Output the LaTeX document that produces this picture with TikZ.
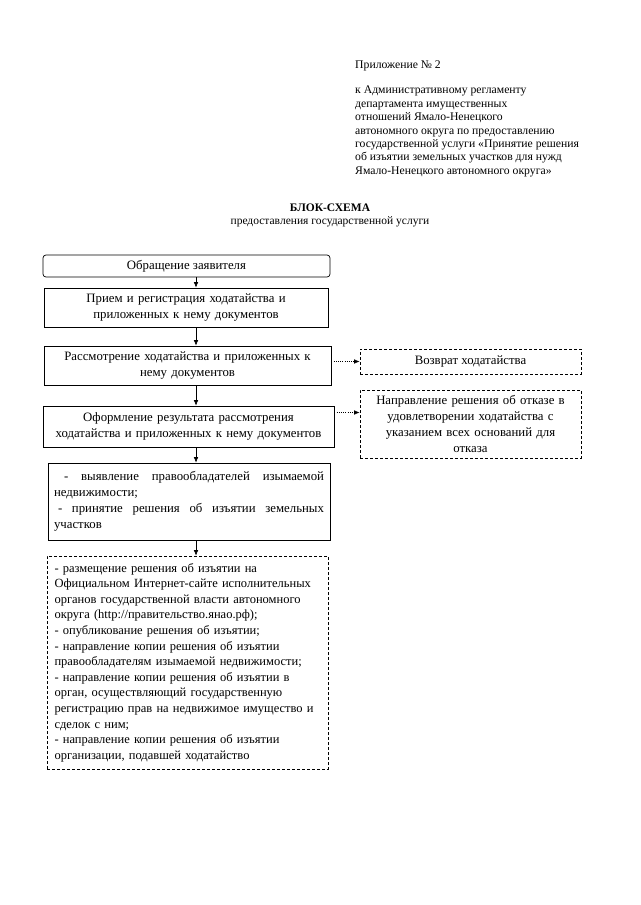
\documentclass[tikz,border=0pt]{standalone}
\usepackage{fontspec}
\setmainfont{Liberation Serif}
\usetikzlibrary{arrows.meta,positioning,calc}
\newcommand{\boxfont}{\fontsize{12.8}{16}\selectfont}
\newcommand{\listfont}{\fontsize{12.5}{15.6}\selectfont}
\newcommand{\notefont}{\fontsize{11.7}{13.4}\selectfont}
\newcommand{\headfont}{\fontsize{11.5}{14}\selectfont}
\tikzset{
  process/.style={draw=black, line width=0.7pt, align=center,
    font=\boxfont, inner sep=0pt},
  startbox/.style={process, rounded corners=3pt},
  dashbox/.style={draw=black, line width=0.7pt, dash pattern=on 3pt off 2pt,
    font=\boxfont, inner sep=0pt},
  arrow/.style={-{Latex[length=5.5pt,width=4.5pt]}, line width=0.6pt},
  dotarrow/.style={-{Latex[length=5.5pt,width=4.5pt]}, line width=0.6pt,
    dash pattern=on 1pt off 1.2pt}
}

\begin{document}
\begin{tikzpicture}[x=1pt, y=-1pt]
  \useasboundingbox (0,0) rectangle (640,905);
  % heading
  \node[anchor=north west, font=\notefont, inner sep=0pt] (annex) at (355,61) {Приложение № 2};
  \node[anchor=north west, font=\notefont, align=left, inner sep=0pt] (regl) at (355,86)
    {к Административному регламенту\\
     департамента имущественных\\
     отношений Ямало-Ненецкого\\
     автономного округа по предоставлению\\
     государственной услуги «Принятие решения\\
     об изъятии земельных участков для нужд\\
     Ямало-Ненецкого автономного округа»};
  \node[font=\headfont\bfseries, inner sep=0pt] (title) at (330,208) {БЛОК-СХЕМА};
  \node[font=\headfont, inner sep=0pt, below=4pt of title] (subtitle) {предоставления государственной услуги};

  % main column
  \node[startbox, minimum width=287, minimum height=22] (apply) at (186.5,266) {Обращение заявителя};
  \node[process, text width=275, minimum width=284, minimum height=39] (receive) at (186,307.5)
    {Прием и регистрация ходатайства и\\приложенных к нему документов};
  \node[process, text width=282, minimum width=287, minimum height=39] (review) at (187.5,365.5)
    {Рассмотрение ходатайства и приложенных к\\нему документов};
  \node[process, text width=286, minimum width=291, minimum height=41] (result) at (188.5,426.5)
    {Оформление результата рассмотрения\\ходатайства и приложенных к нему документов};
  \node[process, align=justify, text width=270, minimum width=282, minimum height=77] (decide) at (189,501.5)
    {\hspace*{10pt}- выявление правообладателей изымаемой\linebreak недвижимости;\par
     \hspace*{4pt}- принятие решения об изъятии земельных\linebreak участков};
  \node[dashbox, font=\listfont, align=left, text width=266, minimum width=281, minimum height=213] (publish) at (187.5,662.5)
    {- размещение решения об изъятии на\\
     Официальном Интернет-сайте исполнительных\\
     органов государственной власти автономного\\
     округа (http://правительство.янао.рф);\\
     - опубликование решения об изъятии;\\
     - направление копии решения об изъятии\\
     правообладателям изымаемой недвижимости;\\
     - направление копии решения об изъятии в\\
     орган, осуществляющий государственную\\
     регистрацию прав на недвижимое имущество и\\
     сделок с ним;\\
     - направление копии решения об изъятии\\
     организации, подавшей ходатайство};

  % side boxes
  \node[dashbox, align=center, minimum width=221, minimum height=25] (return) at (470.5,361.5)
    {Возврат ходатайства};
  \node[dashbox, align=center, text width=212, minimum width=221, minimum height=68] (refuse) at (470.5,424)
    {Направление решения об отказе в\\удовлетворении ходатайства с\\указанием всех оснований для\\отказа};

  % connectors
  \coordinate (ax) at (196,0);
  \draw[arrow] (apply.south -| ax) -- (receive.north -| ax);
  \draw[arrow] (receive.south -| ax) -- (review.north -| ax);
  \draw[arrow] (review.south -| ax) -- (result.north -| ax);
  \draw[arrow] (result.south -| ax) -- (decide.north -| ax);
  \draw[arrow] (decide.south -| ax) -- (publish.north -| ax);
  \draw[dotarrow] (return.west -| review.east) -- (return.west);
  \coordinate (r4) at ($(result.east)+(0,-14)$);
  \draw[dotarrow] (r4) -- (r4 -| refuse.west);
\end{tikzpicture}
\end{document}
